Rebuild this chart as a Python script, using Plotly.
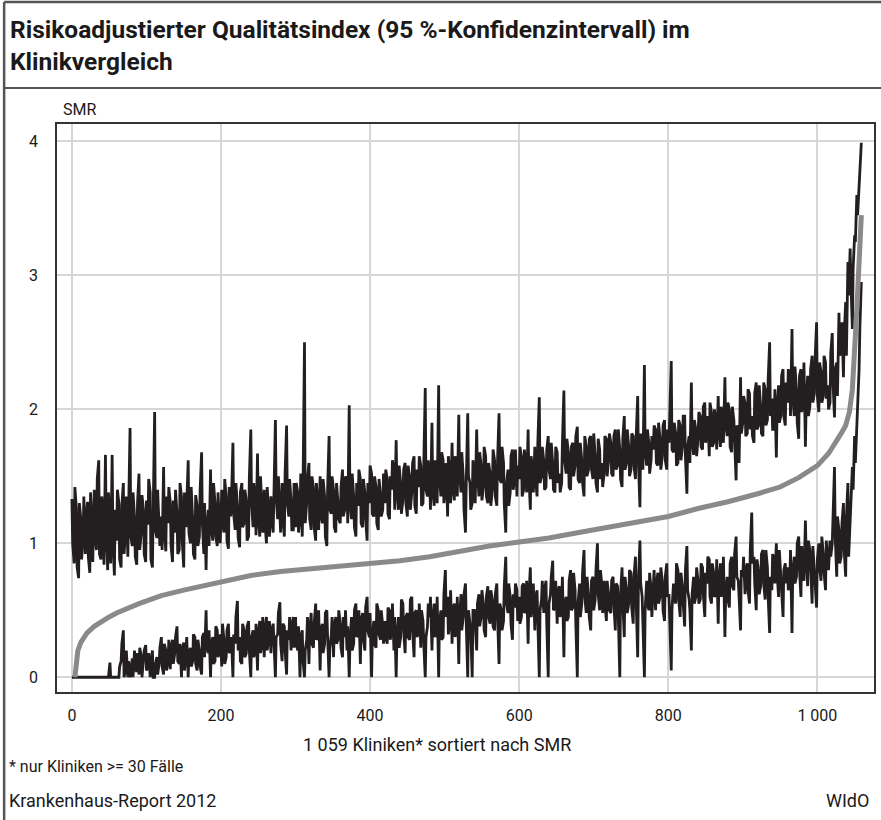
import plotly.graph_objects as go

# ---------------- data ----------------
# SMR curve (sorted), key points along the rank axis
smr_rank = [4, 5, 6, 8, 12, 16, 20, 30, 40, 50, 60, 75, 90, 105, 120, 150, 175, 200,
            240, 280, 320, 360, 400, 440, 480, 520, 560, 600, 640, 680, 720, 760, 800,
            840, 880, 920, 950, 975, 1000, 1015, 1025, 1032, 1038, 1043, 1047, 1050,
            1053, 1056, 1059]
smr_value = [0.0, 0.08, 0.14, 0.2, 0.26, 0.3, 0.33, 0.38, 0.42, 0.45, 0.48, 0.52, 0.55,
             0.58, 0.61, 0.65, 0.68, 0.71, 0.76, 0.79, 0.81, 0.83, 0.85, 0.87, 0.9, 0.94,
             0.98, 1.01, 1.04, 1.08, 1.12, 1.16, 1.2, 1.26, 1.31, 1.37, 1.42, 1.49, 1.58,
             1.67, 1.75, 1.82, 1.88, 1.98, 2.15, 2.4, 2.75, 3.1, 3.45]

# upper 95% limit at clinic ranks 0, 3, 6, ...
upper_ci_a = [
    1.33, 0.85, 1.26, 0.74, 1.18, 1.05, 0.92, 1.31, 0.78, 1.12, 1.40, 0.95, 1.62, 0.88, 1.24, 1.66, 0.80, 1.15, 1.66, 0.76,
    1.02, 1.30, 0.82, 1.45, 1.10, 0.90, 1.86, 0.98, 1.20, 0.84, 1.52, 1.08, 1.25, 0.86, 1.14, 1.38, 0.82, 1.98, 1.04, 1.12,
    1.20, 1.57, 0.94, 1.15, 1.30, 0.86, 1.08, 1.22, 0.95, 1.35, 0.82, 1.12, 1.62, 1.00, 1.18, 0.88, 1.28, 1.05, 1.68, 0.92,
    0.80, 1.25, 1.55, 1.02, 1.30, 0.98, 1.18, 1.40, 1.08, 1.35, 0.96, 1.20, 1.75, 1.10, 1.28, 0.97, 1.45, 1.15, 1.32, 1.05,
    1.85, 1.12, 1.30, 1.67, 1.05, 1.25, 1.40, 1.00, 1.22, 1.35, 1.08, 1.92, 1.18, 1.28, 1.45, 1.05, 1.88, 1.20, 1.32, 1.10,
    1.12, 1.38, 1.20, 1.05, 2.50, 1.30, 1.60, 1.10, 1.42, 1.02, 1.28, 1.50, 1.15, 1.35, 0.98, 1.80, 1.22, 1.40, 1.08, 1.30,
    1.15, 1.55, 1.25, 1.45, 2.03, 1.18, 1.35, 1.05, 1.28, 1.48, 1.12, 1.38, 1.02, 1.30, 1.52, 1.20, 1.42, 1.10, 1.36, 1.25,
    1.30, 1.48, 1.18, 1.40, 1.55, 1.77, 1.25, 1.45, 1.32, 1.60, 1.20, 1.50, 1.38, 1.65, 1.22, 1.42, 1.58, 1.30, 2.16, 1.35,
    1.45, 1.90, 1.28, 1.55, 2.18, 1.35, 1.62, 1.40, 1.20, 1.52, 1.75, 1.32, 1.60, 1.96, 1.38, 1.50, 1.08, 1.97, 1.45, 1.30,
    1.50, 1.85, 1.35, 1.58, 1.42, 1.65, 1.30, 1.52, 1.40, 1.62, 1.28, 1.97, 1.45, 1.60, 1.08, 1.55, 1.38, 1.70, 1.48, 1.35,
    1.48, 1.65, 1.40, 1.58, 1.85, 1.25, 1.55, 1.72, 1.35, 2.09, 1.50, 1.62, 1.42, 1.80, 1.48, 1.60, 1.38, 1.68, 1.52, 1.45,
    2.14, 1.52, 1.68, 1.40, 1.75, 1.58, 1.87, 1.45, 1.62, 1.35, 1.72, 1.55, 1.80, 1.48, 1.65, 1.38, 1.70, 1.60, 1.52, 1.78,
    1.62, 1.75, 1.50, 1.85, 1.58, 1.70, 1.42, 1.95, 1.60, 1.72, 1.55, 1.80, 1.48, 2.10, 1.27, 1.68, 2.33, 1.58, 1.75, 1.62,
    1.70, 1.85, 1.58, 1.78, 1.65, 1.92, 1.55, 1.75, 2.36, 1.68, 1.82, 1.60, 1.88, 1.72, 1.95, 1.37, 1.80, 2.20, 1.66, 1.85,
    1.78, 1.95, 1.70, 2.05, 1.82, 1.65, 1.98, 1.75, 1.90, 2.10, 1.72, 1.88, 2.24, 1.80, 2.00, 1.68, 1.92, 1.47, 1.85, 2.24,
    1.90, 2.05, 1.82, 2.12, 1.95, 1.75, 2.20, 1.88, 2.02, 1.80, 2.15, 1.92, 2.50, 2.08, 1.85, 1.64, 2.18, 1.95, 2.30, 1.88,
    2.05, 2.22, 2.60, 1.95, 2.15, 1.78, 2.30, 2.08, 1.72, 2.25, 2.02, 2.40, 2.12, 2.65, 1.98, 2.28, 2.10, 2.35, 2.18, 2.05,
    2.57, 1.94, 2.35, 2.72, 2.45, 2.24, 2.80, 3.10, 3.20, 2.60, 3.30, 3.60, 3.70, 3.99,
]
# upper 95% limit at clinic ranks 1, 4, 7, ...
upper_ci_b = [
    1.00, 1.42, 0.82, 1.30, 0.88, 1.35, 1.20, 0.90, 1.38, 0.86, 1.05, 1.48, 0.92, 1.35, 0.84, 1.10, 1.38, 0.85, 1.02, 1.25,
    1.40, 0.88, 1.28, 0.92, 1.35, 1.25, 1.05, 1.38, 0.90, 1.30, 0.95, 1.36, 0.92, 1.32, 1.48, 0.88, 1.22, 1.10, 1.40, 0.98,
    0.95, 1.10, 1.35, 1.42, 0.98, 1.32, 1.40, 0.92, 1.45, 1.02, 1.38, 1.30, 1.08, 1.42, 0.92, 1.36, 0.98, 1.40, 1.15, 1.30,
    1.10, 0.98, 1.12, 1.45, 1.05, 1.38, 1.00, 1.15, 1.48, 1.02, 1.42, 1.30, 1.22, 1.45, 1.04, 1.38, 1.12, 1.40, 1.02, 1.48,
    1.30, 1.45, 1.06, 1.20, 1.50, 1.08, 1.15, 1.42, 1.05, 1.18, 1.48, 1.35, 1.50, 1.08, 1.20, 1.52, 1.30, 1.48, 1.10, 1.45,
    1.45, 1.08, 1.52, 1.40, 1.15, 1.48, 1.18, 1.50, 1.12, 1.45, 1.10, 1.22, 1.48, 1.05, 1.40, 1.25, 1.50, 1.12, 1.45, 1.18,
    1.42, 1.20, 1.50, 1.15, 1.30, 1.52, 1.12, 1.45, 1.55, 1.15, 1.48, 1.18, 1.45, 1.58, 1.22, 1.50, 1.15, 1.48, 1.20, 1.52,
    1.55, 1.22, 1.50, 1.62, 1.25, 1.40, 1.58, 1.22, 1.55, 1.30, 1.58, 1.25, 1.60, 1.28, 1.55, 1.65, 1.28, 1.55, 1.40, 1.62,
    1.25, 1.40, 1.62, 1.30, 1.50, 1.68, 1.30, 1.60, 1.65, 1.30, 1.42, 1.65, 1.35, 1.52, 1.68, 1.25, 1.45, 1.50, 1.25, 1.62,
    1.30, 1.55, 1.68, 1.32, 1.72, 1.35, 1.60, 1.28, 1.70, 1.35, 1.62, 1.48, 1.72, 1.30, 1.45, 1.28, 1.65, 1.40, 1.70, 1.58,
    1.72, 1.35, 1.70, 1.38, 1.50, 1.65, 1.38, 1.48, 1.75, 1.45, 1.72, 1.40, 1.70, 1.55, 1.75, 1.40, 1.72, 1.45, 1.38, 1.75,
    1.62, 1.78, 1.42, 1.72, 1.50, 1.80, 1.48, 1.75, 1.45, 1.80, 1.50, 1.78, 1.55, 1.82, 1.45, 1.78, 1.48, 1.42, 1.80, 1.50,
    1.82, 1.52, 1.80, 1.55, 1.85, 1.48, 1.78, 1.55, 1.85, 1.50, 1.82, 1.58, 1.80, 1.60, 1.82, 1.55, 1.70, 1.85, 1.52, 1.80,
    1.88, 1.60, 1.90, 1.55, 1.88, 1.62, 1.85, 1.92, 1.70, 1.90, 1.58, 1.92, 1.62, 1.95, 1.65, 1.72, 1.60, 1.78, 1.92, 1.65,
    1.98, 1.72, 2.02, 1.75, 1.95, 2.05, 1.72, 2.00, 1.70, 1.85, 2.02, 1.75, 1.90, 2.05, 1.72, 2.02, 1.70, 1.88, 1.60, 1.82,
    2.10, 1.80, 2.15, 1.85, 1.80, 2.12, 1.85, 2.18, 1.82, 2.20, 1.88, 2.22, 1.95, 1.85, 2.15, 2.00, 1.90, 2.25, 1.95, 2.20,
    2.30, 1.95, 2.10, 2.32, 1.90, 2.25, 1.98, 2.35, 2.05, 1.95, 2.30, 2.05, 2.38, 2.10, 2.35, 2.05, 2.40, 2.08, 2.00, 2.42,
    2.20, 2.30, 2.10, 2.40, 2.65, 2.55, 2.40, 2.85, 2.95, 3.05, 3.25, 3.45, 3.85,
]

# lower 95% limit at clinic ranks 0, 3, 6, ...
lower_ci_a = [
    0, 0, 0, 0, 0, 0, 0, 0, 0, 0, 0, 0, 0, 0, 0, 0, 0, 0.11, 0, 0,
    0, 0, 0.12, 0.35, 0.06, 0, 0, 0.14, 0.2, 0.04, 0.02, 0.16, 0.1, 0.24, 0.08, 0, 0.2, 0, 0.15, 0.1,
    0.3, 0.02, 0.2, 0.12, 0.06, 0.28, 0.18, 0.38, 0.1, 0.0, 0.26, 0.15, 0.0, 0.22, 0.12, 0.3, 0.05, 0.2, 0.02, 0.33,
    0.5, 0.18, 0.0, 0.3, 0.12, 0.35, 0.2, 0.08, 0.28, 0.15, 0.4, 0.22, 0.0, 0.25, 0.57, 0.3, 0.1, 0.35, 0.18, 0.42,
    0.0, 0.35, 0.2, 0.05, 0.42, 0.25, 0.15, 0.45, 0.3, 0.18, 0.4, 0.0, 0.32, 0.56, 0.12, 0.38, 0.02, 0.28, 0.2, 0.45,
    0.45, 0.2, 0.0, 0.35, 0.0, 0.28, 0.1, 0.48, 0.22, 0.55, 0.3, 0.05, 0.4, 0.25, 0.5, 0.0, 0.32, 0.15, 0.45, 0.28,
    0.4, 0.15, 0.3, 0.2, 0.0, 0.45, 0.25, 0.55, 0.32, 0.1, 0.48, 0.2, 0.6, 0.3, 0.0, 0.42, 0.22, 0.5, 0.28, 0.38,
    0.42, 0.25, 0.5, 0.35, 0.2, 0.0, 0.45, 0.3, 0.55, 0.18, 0.48, 0.28, 0.6, 0.15, 0.5, 0.35, 0.22, 0.42, 0.0, 0.38,
    0.45, 0.2, 0.55, 0.35, 0.0, 0.5, 0.3, 0.8, 0.6, 0.4, 0.25, 0.55, 0.38, 0.1, 0.62, 0.45, 0.7, 0.0, 0.4, 0.0,
    0.5, 0.2, 0.62, 0.45, 0.55, 0.3, 0.68, 0.4, 0.58, 0.35, 0.7, 0.1, 0.5, 0.42, 0.9, 0.48, 0.6, 0.28, 0.52, 0.65,
    0.6, 0.45, 0.7, 0.5, 0.25, 0.82, 0.55, 0.35, 0.65, 0.0, 0.58, 0.48, 0.72, 0.0, 0.62, 0.87, 0.52, 0.4, 0.68, 0.55,
    0.15, 0.6, 0.45, 0.8, 0.52, 0.65, 0.0, 0.7, 0.55, 0.95, 0.48, 0.62, 0.35, 0.75, 0.58, 1.0, 0.5, 0.68, 0.72, 0.42,
    0.62, 0.48, 0.75, 0.35, 0.68, 0.0, 0.82, 0.3, 0.65, 0.55, 0.78, 0.4, 0.9, 0.15, 1.02, 0.6, 0.0, 0.72, 0.5, 0.66,
    0.65, 0.5, 0.78, 0.6, 0.72, 0.42, 0.85, 0.62, 0.05, 0.7, 0.55, 0.8, 0.45, 0.68, 0.38, 0.98, 0.58, 0.2, 0.75, 0.6,
    0.72, 0.58, 0.82, 0.45, 0.7, 0.88, 0.55, 0.78, 0.62, 0.4, 0.85, 0.68, 0.3, 0.75, 0.52, 0.9, 0.65, 1.05, 0.72, 0.35,
    0.75, 0.62, 0.85, 0.55, 1.23, 0.9, 0.5, 0.8, 0.68, 0.95, 0.58, 0.82, 0.33, 0.65, 0.88, 1.0, 0.6, 0.78, 0.45, 0.85,
    0.82, 0.7, 0.33, 0.9, 0.75, 1.05, 0.6, 0.85, 1.17, 0.68, 0.95, 0.55, 0.8, 0.52, 1.0, 0.72, 0.92, 0.65, 0.88, 1.02,
    1.0, 1.57, 0.75, 1.1, 0.9, 1.3, 0.75, 1.45, 1.2, 1.57, 1.8, 1.87, 2.3, 2.95,
]
# lower 95% limit at clinic ranks 1, 4, 7, ...
lower_ci_b = [
    0, 0, 0, 0, 0, 0, 0, 0, 0, 0, 0, 0, 0, 0, 0, 0, 0, 0, 0, 0,
    0, 0.08, 0.25, 0.0, 0.2, 0.12, 0.05, 0.0, 0.06, 0.18, 0.22, 0.0, 0.2, 0.05, 0.18, 0.12, 0.0, 0.1, 0.02, 0.22,
    0.08, 0.25, 0.05, 0.28, 0.22, 0.1, 0.3, 0.12, 0.25, 0.2, 0.05, 0.3, 0.18, 0.08, 0.32, 0.1, 0.28, 0.08, 0.3, 0.15,
    0.22, 0.35, 0.25, 0.1, 0.38, 0.15, 0.32, 0.4, 0.1, 0.35, 0.18, 0.3, 0.32, 0.45, 0.2, 0.12, 0.4, 0.15, 0.38, 0.2,
    0.3, 0.15, 0.4, 0.32, 0.18, 0.45, 0.35, 0.2, 0.42, 0.35, 0.22, 0.3, 0.48, 0.25, 0.4, 0.2, 0.35, 0.45, 0.38, 0.22,
    0.25, 0.38, 0.3, 0.12, 0.2, 0.45, 0.35, 0.25, 0.4, 0.28, 0.5, 0.35, 0.18, 0.48, 0.3, 0.22, 0.45, 0.38, 0.25, 0.5,
    0.22, 0.45, 0.5, 0.38, 0.25, 0.2, 0.5, 0.3, 0.5, 0.42, 0.28, 0.52, 0.35, 0.48, 0.3, 0.25, 0.55, 0.32, 0.5, 0.25,
    0.3, 0.52, 0.28, 0.55, 0.45, 0.3, 0.22, 0.58, 0.35, 0.45, 0.3, 0.58, 0.35, 0.48, 0.3, 0.55, 0.5, 0.25, 0.3, 0.55,
    0.6, 0.42, 0.3, 0.6, 0.4, 0.28, 0.62, 0.45, 0.32, 0.65, 0.5, 0.3, 0.6, 0.45, 0.35, 0.62, 0.4, 0.5, 0.35, 0.5,
    0.35, 0.55, 0.38, 0.65, 0.35, 0.6, 0.45, 0.65, 0.38, 0.62, 0.45, 0.55, 0.35, 0.68, 0.55, 0.7, 0.4, 0.62, 0.7, 0.42,
    0.4, 0.68, 0.48, 0.72, 0.6, 0.45, 0.7, 0.6, 0.42, 0.5, 0.72, 0.65, 0.4, 0.55, 0.75, 0.5, 0.72, 0.65, 0.45, 0.75,
    0.55, 0.42, 0.72, 0.5, 0.78, 0.4, 0.55, 0.45, 0.78, 0.6, 0.75, 0.45, 0.72, 0.5, 0.8, 0.62, 0.8, 0.48, 0.55, 0.72,
    0.5, 0.72, 0.55, 0.7, 0.45, 0.62, 0.55, 0.75, 0.48, 0.8, 0.52, 0.75, 0.55, 0.72, 0.7, 0.4, 0.5, 0.55, 0.78, 0.45,
    0.8, 0.68, 0.55, 0.82, 0.5, 0.75, 0.6, 0.45, 0.5, 0.6, 0.85, 0.58, 0.78, 0.55, 0.8, 0.65, 0.5, 0.62, 0.55, 0.82,
    0.55, 0.85, 0.62, 0.78, 0.9, 0.6, 0.85, 0.6, 0.88, 0.72, 0.6, 0.9, 0.62, 0.58, 0.85, 0.68, 0.92, 0.75, 0.6, 0.8,
    0.9, 0.8, 0.65, 0.95, 0.85, 0.7, 0.88, 0.62, 0.92, 0.7, 0.95, 0.6, 0.75, 0.92, 0.7, 0.78, 0.95, 0.62, 0.8, 0.7,
    0.65, 0.95, 0.78, 0.7, 1.0, 0.8, 0.98, 0.72, 0.9, 1.02, 0.75, 0.98, 0.7, 0.88, 0.82, 1.05, 0.78, 1.02, 0.8, 0.9,
    1.25, 1.05, 1.2, 0.85, 1.15, 0.95, 1.2, 0.9, 1.35, 1.4, 1.6, 2.05, 2.6,
]


def merge(a_vals, b_vals):
    """Interleave values at ranks 3i (a) and 3i+1 (b)."""
    ranks, vals = [], []
    for i, v in enumerate(a_vals):
        ranks.append(3 * i)
        vals.append(v)
        if i < len(b_vals):
            ranks.append(3 * i + 1)
            vals.append(b_vals[i])
    return ranks, vals


upper_rank, upper_ci = merge(upper_ci_a, upper_ci_b)
lower_rank, lower_ci = merge(lower_ci_a, lower_ci_b)

x_tickvals = [0, 200, 400, 600, 800, 1000]
x_ticktext = ["0", "200", "400", "600", "800", "1 000"]
y_tickvals = [0, 1, 2, 3, 4]
y_ticktext = ["0", "1", "2", "3", "4"]

title_text = "Risikoadjustierter Qualitätsindex (95 %-Konfidenzintervall) im<br>Klinikvergleich"
y_label = "SMR"
x_label = "1 059 Kliniken* sortiert nach SMR"
footnote = "* nur Kliniken >= 30 Fälle"
source_left = "Krankenhaus-Report 2012"
source_right = "WIdO"

# ---------------- figure ----------------
FONT = "Roboto, Arial, sans-serif"
BLACK = "#231f20"
GREY = "#8a8a8a"

W, H = 881, 820
L, R, T, B = 57, 876, 124, 692  # plot area in pixels


def px(xp):
    return (xp - L) / (R - L)


def py(yp):
    return (B - yp) / (B - T)


fig = go.Figure()
fig.add_trace(go.Scatter(x=lower_rank, y=lower_ci, mode="lines",
                         line=dict(color=BLACK, width=2.8), hoverinfo="skip"))
fig.add_trace(go.Scatter(x=upper_rank, y=upper_ci, mode="lines",
                         line=dict(color=BLACK, width=2.8), hoverinfo="skip"))
fig.add_trace(go.Scatter(x=smr_rank, y=smr_value, mode="lines",
                         line=dict(color=GREY, width=5), hoverinfo="skip"))

fig.update_layout(
    width=W, height=H,
    margin=dict(l=L, r=W - R, t=T, b=H - B, pad=0),
    paper_bgcolor="white", plot_bgcolor="white",
    showlegend=False,
    font=dict(family=FONT, color="#1a1a1a", size=15),
)

fig.update_xaxes(
    range=[-20, 1076], tickvals=x_tickvals, ticktext=x_ticktext,
    showgrid=True, gridcolor="#d6d6d6", gridwidth=1.5,
    zeroline=False, showline=True, linecolor="#333333", linewidth=1.5, mirror=True,
    ticks="", ticklabelstandoff=8, tickfont=dict(size=16, family=FONT),
)
fig.update_yaxes(
    range=[-0.11, 4.13], tickvals=y_tickvals, ticktext=y_ticktext,
    showgrid=True, gridcolor="#d6d6d6", gridwidth=1.5,
    zeroline=False, showline=True, linecolor="#333333", linewidth=1.5, mirror=True,
    ticks="", ticklabelstandoff=14, tickfont=dict(size=16, family=FONT),
)

ann = [
    dict(text="<b>" + title_text + "</b>", x=px(8), y=py(13), xanchor="left", yanchor="top",
         align="left", font=dict(size=24.5, family=FONT, color="#1a1a1a")),
    dict(text=y_label, x=px(61), y=py(110), xanchor="left", yanchor="middle",
         font=dict(size=16, family=FONT)),
    dict(text=x_label, x=px(438), y=py(744), xanchor="center", yanchor="middle",
         font=dict(size=18, family=FONT)),
    dict(text=footnote, x=px(7), y=py(766), xanchor="left", yanchor="middle",
         font=dict(size=16, family=FONT)),
    dict(text=source_left, x=px(7), y=py(800), xanchor="left", yanchor="middle",
         font=dict(size=18, family=FONT)),
    dict(text=source_right, x=px(873), y=py(800), xanchor="right", yanchor="middle",
         font=dict(size=18, family=FONT)),
]
for a in ann:
    a.update(xref="paper", yref="paper", showarrow=False)
fig.update_layout(annotations=ann)

shapes = [
    dict(type="line", x0=px(4), x1=px(4), y0=py(2), y1=py(830), line=dict(color="#555555", width=2.5)),
    dict(type="line", x0=px(4), x1=px(890), y0=py(2), y1=py(2), line=dict(color="#555555", width=2.5)),
    dict(type="line", x0=px(4), x1=px(890), y0=py(88), y1=py(88), line=dict(color="#555555", width=2)),
]
for s in shapes:
    s.update(xref="paper", yref="paper", layer="above")
fig.update_layout(shapes=shapes)

fig.write_html("out.html", config={"displayModeBar": False},
               post_script="document.body.style.margin='0px';")
